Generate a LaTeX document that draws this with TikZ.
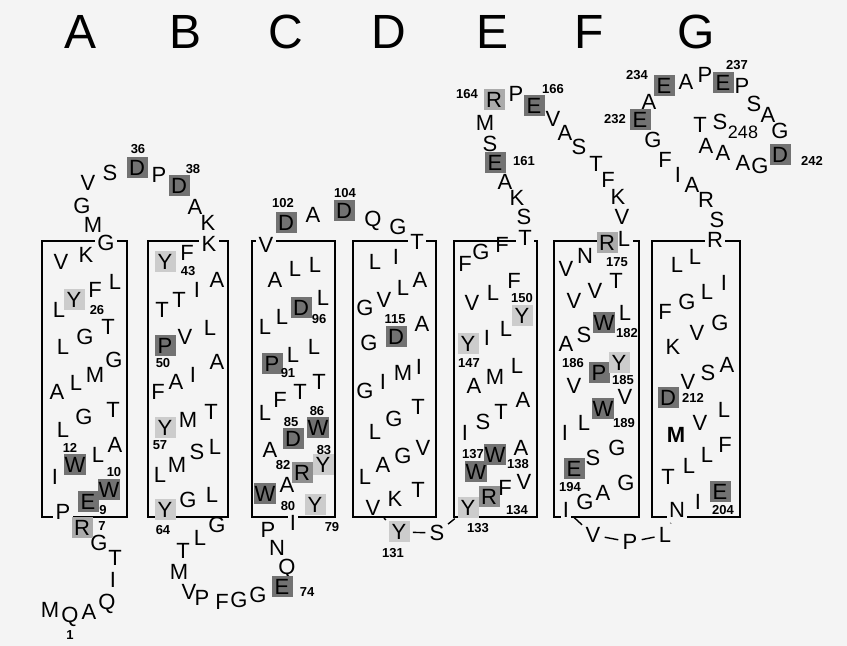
\documentclass[tikz,border=0pt]{standalone}
\usepackage{fontspec}
\setmainfont{Liberation Sans}
\usepackage{tikz}
\definecolor{paper}{HTML}{F4F4F4}
\definecolor{shadedark}{HTML}{727272}
\definecolor{shademid}{HTML}{8E8E8E}
\definecolor{shadepale}{HTML}{ABABAB}
\definecolor{shadelight}{HTML}{CCCCCC}
\tikzset{
    residue/.style={
        font=\fontsize{11}{11}\selectfont, inner sep=0.5pt,
        text height=7.9pt, text depth=0pt
    },
    shaded/.style={
        residue, fill=#1, minimum width=10.5pt, minimum height=10.5pt
    },
    shaded/.default=shadedark,
    onedge/.style={
        residue, fill=paper, inner sep=1.2pt
    },
    seqnum/.style={
        font=\fontsize{6.5}{6.5}\selectfont\bfseries, inner sep=0pt
    },
    helixname/.style={
        font=\fontsize{24}{24}\selectfont
    },
    helixbox/.style={
        draw=black, line width=0.8pt
    },
    link/.style={
        line width=0.7pt, shorten <=1.5pt, shorten >=1.5pt
    },
}
\begin{document}
\begin{tikzpicture}[x=0.5pt, y=-0.5pt]
    \fill[paper] (0,0) rectangle (847,646);
    \useasboundingbox (0,0) rectangle (847,646);

    % helix boxes and their names
    \foreach \lft/\rgt in {42/127, 148/228, 252/335, 353/436, 454/537, 554/639, 652/740}
        \draw[helixbox] (\lft,241) rectangle (\rgt,517);
    \foreach \ltr/\x in {A/81, B/186, C/286, D/389, E/493, F/589, G/696}
        \node[helixname] (helix\ltr) at (\x,32) {\ltr};

    % plain residues
    \foreach \rn/\x/\y/\ltr in {
        0/50/610/M, 1/70/615/Q, 2/89/612/A, 3/107/602/Q, 4/113/580/I, 5/115/558/T, 6/99/543/G,
        11/55/477/I, 13/98/455/L, 14/115/445/A, 15/63/430/L, 16/84/417/G, 17/113/410/T,
        18/57/392/A, 19/76/383/L, 20/95/375/M, 21/114/360/G, 22/63/347/L, 23/85/337/G,
        24/108/327/T, 25/59/310/L, 27/95/290/F, 28/115/282/L, 29/61/262/V, 30/86/255/K,
        32/93/225/M, 33/82/206/G, 34/88/183/V, 35/110/173/S, 37/159/175/P, 39/195/207/A,
        40/208/223/K, 42/187/253/F, 44/217/280/A, 45/197/290/I, 46/179/300/T, 47/162/310/T,
        48/210/328/L, 49/185/337/V, 51/217/362/A, 52/193/375/I, 53/176/382/A, 54/158/392/F,
        55/211/412/T, 56/188/420/M, 58/215/447/L, 59/197/452/S, 60/177/465/M, 61/160/475/L,
        62/212/495/L, 63/188/500/G, 65/217/525/G, 66/200/538/L, 67/183/551/T, 68/179/572/M,
        69/189/592/V, 70/202/598/P, 71/222/602/F, 72/239/600/G, 73/258/595/G,
        75/287/567/Q, 76/277/548/N, 77/268/530/P, 81/287/485/A, 84/270/450/A, 87/265/413/L,
        88/280/400/F, 89/300/392/T, 90/319/382/T, 92/293/355/L, 93/314/347/L, 94/265/327/L,
        95/282/317/L, 97/323/298/L, 98/275/280/A, 99/295/269/L, 100/315/265/L, 103/313/215/A,
        105/373/219/Q, 106/398/227/G, 108/396/257/I, 109/375/262/L, 110/420/280/A,
        111/403/288/L, 112/384/300/V, 113/365/308/G, 114/422/324/A, 116/369/343/G,
        117/419/367/I, 118/403/373/M, 119/383/382/I, 120/365/391/G, 121/418/407/T,
        122/394/419/G, 123/375/432/L, 124/423/448/V, 125/403/456/G, 126/383/465/A,
        127/365/477/L, 128/418/490/T, 129/395/499/K, 130/373/508/V, 132/437/533/S,
        135/505/488/F, 136/524/482/V, 139/521/448/A, 140/465/433/I, 141/483/422/S,
        142/501/412/T, 143/523/400/A, 144/474/386/A, 145/495/377/M, 146/517/366/L,
        148/487/338/I, 149/506/329/L, 151/472/303/V, 152/493/293/L, 153/514/281/F,
        154/465/264/F, 155/481/252/G, 156/502/245/F, 158/524/217/S, 159/517/198/K,
        160/505/182/A, 162/490/144/S, 163/485/123/M, 165/516/94/P, 167/553/119/V,
        168/565/133/A, 169/579/147/S, 170/596/164/T, 171/608/180/F, 172/618/197/K,
        173/622/217/V, 176/585/256/N, 177/566/269/V, 178/616/281/T, 179/595/291/V,
        180/574/301/V, 181/625/313/L, 183/584/335/S, 184/566/344/A, 187/574/386/V,
        188/625/397/V, 190/584/423/L, 191/565/433/I, 192/617/448/G, 193/593/458/S,
        195/626/483/G, 196/603/493/A, 197/585/502/G, 199/593/535/V, 200/630/542/P,
        201/665/535/L, 203/698/502/I, 205/668/477/T, 206/689/466/L, 207/707/455/L,
        208/725/445/F, 210/700/423/V, 211/724/410/L, 213/688/382/V, 214/708/373/S,
        215/727/365/A, 216/673/347/K, 217/697/333/V, 218/720/323/G, 219/665/312/F,
        220/687/302/G, 221/707/292/L, 222/724/283/I, 223/677/265/L, 224/695/257/L,
        226/717/220/S, 227/706/200/R, 228/692/185/A, 229/678/175/I, 230/665/160/F,
        231/653/140/G, 233/649/102/A, 235/686/82/A, 236/705/75/P, 238/742/86/P,
        239/754/104/S, 240/768/115/A, 241/780/131/G, 243/760/166/G, 244/743/163/A,
        245/723/153/A, 246/706/146/A, 247/700/125/T, 248/720/122/S}
        \node[residue] (r\rn) at (\x,\y) {\ltr};
    \node[residue, font=\fontsize{11}{11}\selectfont\bfseries] (r209) at (676,435) {M};

    % residues sitting on a box edge
    \foreach \rn/\x/\y/\ltr in {8/63/512/P, 31/106/243/G, 41/209/244/K, 78/293/523/I,
        101/266/245/V, 107/417/242/T, 157/525/238/T, 174/624/239/L, 198/566/510/I,
        202/677/510/N, 225/715/240/R}
        \node[onedge] (r\rn) at (\x,\y) {\ltr};

    % shaded residues
    \foreach \rn/\x/\y/\ltr in {9/88/502/E, 10/109/490/W, 12/75/465/W, 36/137/168/D,
        38/179/186/D, 50/165/346/P, 74/282/587/E, 80/265/494/W, 85/293/439/D, 86/318/428/W,
        91/272/364/P, 96/301/308/D, 102/286/223/D, 104/344/211/D, 115/396/337/D,
        137/476/472/W, 138/495/455/W, 161/495/163/E, 166/534/106/E, 182/604/323/W,
        186/599/373/P, 189/603/409/W, 194/574/469/E, 204/720/492/E, 212/668/398/D,
        232/640/120/E, 234/664/86/E, 237/723/83/E, 242/780/155/D}
        \node[shaded] (r\rn) at (\x,\y) {\ltr};
    \foreach \rn/\x/\y/\ltr in {82/302/473/R, 134/489/497/R}
        \node[shaded=shademid] (r\rn) at (\x,\y) {\ltr};
    \foreach \rn/\x/\y/\ltr in {7/82/528/R, 164/494/100/R, 175/607/243/R}
        \node[shaded=shadepale] (r\rn) at (\x,\y) {\ltr};
    \foreach \rn/\x/\y/\ltr in {26/74/300/Y, 43/165/262/Y, 57/165/428/Y, 64/165/510/Y,
        79/315/505/Y, 83/323/465/Y, 131/399/532/Y, 133/468/508/Y, 147/468/344/Y,
        150/522/316/Y, 185/619/363/Y}
        \node[shaded=shadelight] (r\rn) at (\x,\y) {\ltr};

    % sequence numbers
    \foreach \x/\y/\ltr in {70/635/1, 102/526/7, 103/510/9, 114/472/10, 70/448/12,
        97/310/26, 138/149/36, 193/169/38, 188/271/43, 163/363/50, 160/445/57, 163/530/64,
        307/592/74, 332/527/79, 288/506/80, 283/465/82, 324/450/83, 291/422/85, 317/411/86,
        288/373/91, 319/319/96, 283/203/102, 345/193/104, 395/319/115, 393/553/131,
        478/528/133, 517/510/134, 473/454/137, 518/464/138, 469/363/147, 522/298/150,
        524/161/161, 467/94/164, 553/89/166, 617/262/175, 627/333/182, 623/380/185,
        573/363/186, 624/423/189, 570/487/194, 723/510/204, 693/398/212, 615/119/232,
        637/75/234, 737/65/237, 812/161/242}
        \node[seqnum] (n\ltr) at (\x,\y) {\ltr};
    \node[seqnum, font=\fontsize{9}{9}\selectfont] (n248) at (743,132) {248};

    % cytoplasmic loop links
    \draw[link] (r130) -- (r131);
    \draw[link] (r131) -- (r132);
    \draw[link] (r132) -- (r133);
    \draw[link] (r198) -- (r199);
    \draw[link] (r199) -- (r200);
    \draw[link] (r200) -- (r201);
    \draw[link] (r201) -- (r202);
\end{tikzpicture}
\end{document}
